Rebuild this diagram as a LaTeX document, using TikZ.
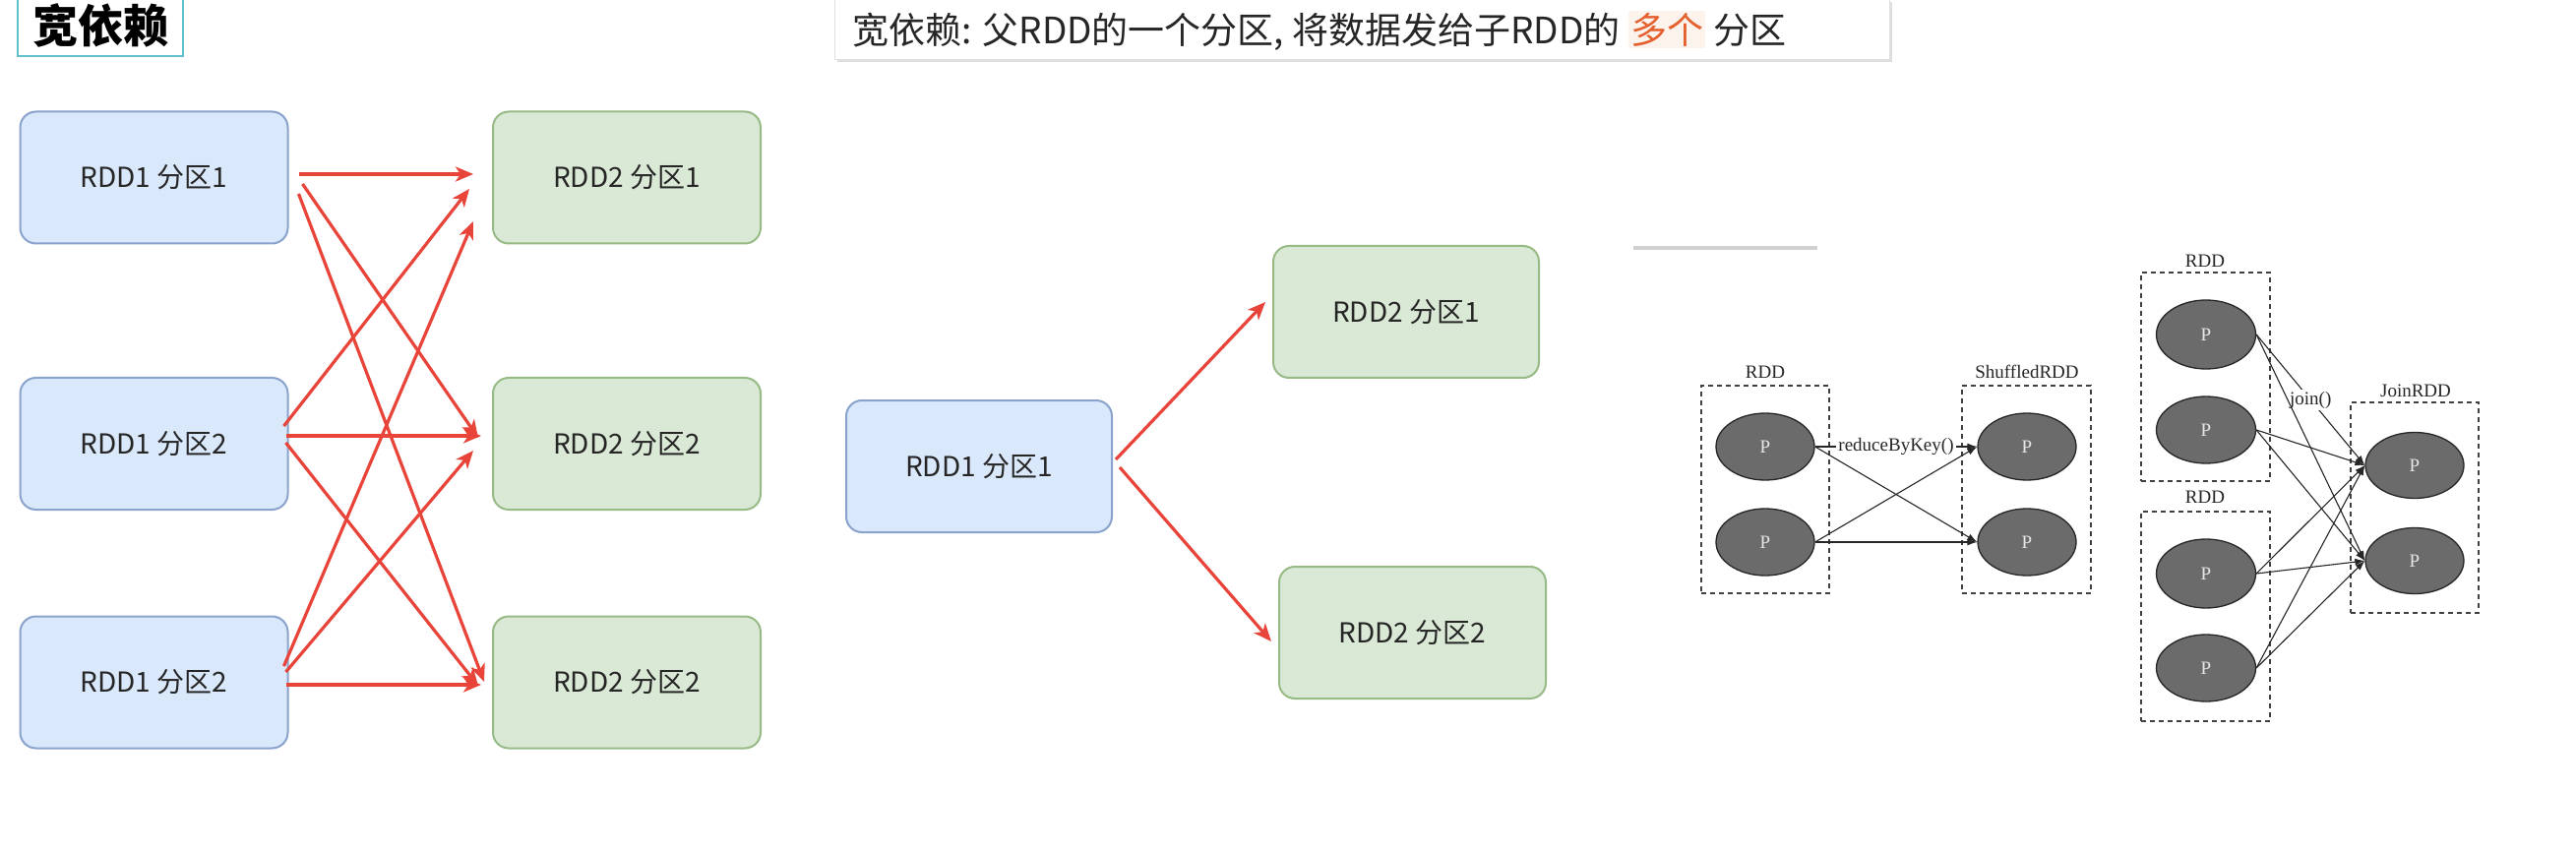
\documentclass[tikz,border=0pt]{standalone}
\usepackage{fontspec}
\setmainfont{Liberation Serif}
\newfontfamily\cjk{Noto Sans CJK SC}
\usetikzlibrary{arrows.meta,shadows,shapes.geometric}
\definecolor{bluefill}{HTML}{DAE8FC}
\definecolor{bluedraw}{HTML}{8AA3CC}
\definecolor{greenfill}{HTML}{D9E9D5}
\definecolor{greendraw}{HTML}{97BA86}
\definecolor{redline}{HTML}{E8443A}
\definecolor{teal}{HTML}{62C1C9}
\definecolor{pgray}{HTML}{6B6B6B}
\definecolor{hlbg}{HTML}{FCF4EC}
\definecolor{hlfg}{HTML}{E4602E}
\tikzset{
  rddbox/.style={rectangle, rounded corners=16pt, line width=2pt, minimum width=272pt, minimum height=134pt, inner sep=0pt, text=black!85, font=\cjk\fontsize{28pt}{34pt}\selectfont},
  bluebox/.style={rddbox, fill=bluefill, draw=bluedraw},
  greenbox/.style={rddbox, fill=greenfill, draw=greendraw},
  redarrow/.style={draw=redline, line width=3.2pt, -{Stealth[length=18pt,width=15pt,inset=5pt]}},
  dashbox/.style={rectangle, draw=black!75, line width=1.4pt, dash pattern=on 5pt off 4pt, inner sep=0pt},
  pnode/.style={ellipse, fill=pgray, draw=black!85, line width=1.3pt, minimum width=100pt, minimum height=68pt, inner sep=0pt, text=black!10, font=\fontsize{19pt}{22pt}\selectfont},
  lbl/.style={font=\fontsize{19pt}{22pt}\selectfont, text=black!85, inner sep=1pt},
  thinarrow/.style={draw=black!85, line width=1.1pt, -{Latex[length=10pt,width=7pt]}},
}
\begin{document}
\begin{tikzpicture}[x=1pt,y=-1pt]
\useasboundingbox (0,0) rectangle (2618,866);
\fill[white] (0,0) rectangle (2618,866);

% title
\node[draw=teal, line width=2.5pt, minimum width=168pt, minimum height=62pt, inner sep=0pt, font=\cjk\bfseries\fontsize{46pt}{50pt}\selectfont] (title) at (102,26) {宽依赖};

% caption
\node[rectangle, fill=white, draw=black!12, line width=1pt, minimum width=1072pt, minimum height=61pt, inner sep=0pt,
      drop shadow={shadow xshift=3pt, shadow yshift=-3pt, fill=black!25, opacity=0.5}] (cap) at (1384,30) {};
\node[anchor=west, inner sep=0pt, font=\cjk\fontsize{37pt}{44pt}\selectfont, text=black!85] (captext) at (866,31)
  {宽依赖: 父RDD的一个分区, 将数据发给子RDD的 {\fboxsep=2pt\colorbox{hlbg}{\textcolor{hlfg}{多个}}} 分区};

% left group
\node[bluebox] (b1) at (156.5,180.5) {RDD1 分区1};
\node[bluebox] (b2) at (156.5,451) {RDD1 分区2};
\node[bluebox] (b3) at (156.5,693.5) {RDD1 分区2};
\node[greenbox] (g1) at (637,180.5) {RDD2 分区1};
\node[greenbox] (g2) at (637,451) {RDD2 分区2};
\node[greenbox] (g3) at (637,693.5) {RDD2 分区2};

\draw[redarrow] ([xshift=10pt,yshift=3.5pt]b1.east) -- ([xshift=-19pt,yshift=3.5pt]g1.west);
\draw[redarrow] ([xshift=14pt,yshift=-6.5pt]b1.east) -- ([xshift=-14pt,yshift=6pt]g2.west);
\draw[redarrow] ([xshift=10pt,yshift=-16.5pt]b1.east) -- ([xshift=-8pt,yshift=0.5pt]g3.west);
\draw[redarrow] ([xshift=-5pt,yshift=18pt]b2.east) -- ([xshift=-23pt,yshift=-11.5pt]g1.west);
\draw[redarrow] ([xshift=-3pt,yshift=8pt]b2.east) -- ([xshift=-11pt,yshift=8pt]g2.west);
\draw[redarrow] ([xshift=-3pt,yshift=1pt]b2.east) -- ([xshift=-14pt,yshift=-3.5pt]g3.west);
\draw[redarrow] ([xshift=-5pt,yshift=16.5pt]b3.east) -- ([xshift=-19pt,yshift=-44.5pt]g1.west);
\draw[redarrow] ([xshift=-3pt,yshift=10.5pt]b3.east) -- ([xshift=-19pt,yshift=-7pt]g2.west);
\draw[redarrow] ([xshift=-3pt,yshift=-2.5pt]b3.east) -- ([xshift=-11pt,yshift=-2.5pt]g3.west);

% middle group
\node[bluebox, minimum width=270pt] (m1) at (995,474) {RDD1 分区1};
\node[greenbox, minimum width=270pt] (m2) at (1429,317) {RDD2 分区1};
\node[greenbox, minimum width=271pt] (m3) at (1435.5,643) {RDD2 分区2};
\draw[redarrow] ([xshift=3pt,yshift=7pt]m1.east) -- ([xshift=-7pt,yshift=10pt]m2.west);
\draw[redarrow] ([xshift=7pt,yshift=-1pt]m1.east) -- ([xshift=-7pt,yshift=-9pt]m3.west);

% gray rule
\draw[line width=4pt, draw=black!18] (1660,252) -- (1847,252);

% reduceByKey diagram
\node[dashbox, minimum width=130pt, minimum height=211pt] (ra) at (1794,497.5) {};
\node[dashbox, minimum width=131pt, minimum height=211pt] (sa) at (2059.5,497.5) {};
\node[lbl] (ralbl) at (1794,378) {RDD};
\node[lbl] (salbl) at (2060,378) {ShuffledRDD};
\node[pnode] (e1) at (1794,454) {P};
\node[pnode] (e2) at (1794,551) {P};
\node[pnode] (s1) at (2060,454) {P};
\node[pnode] (s2) at (2060,551) {P};
\draw[thinarrow] (e1.east) -- node[lbl, fill=white, inner sep=2pt] (rbk) {reduceByKey()} (s1.west);
\draw[thinarrow] (e1.east) -- (s2.west);
\draw[thinarrow] (e2.east) -- (s1.west);
\draw[thinarrow] (e2.east) -- (s2.west);

% join diagram
\node[dashbox, minimum width=131pt, minimum height=212pt] (jr1) at (2241.5,383) {};
\node[dashbox, minimum width=131pt, minimum height=213pt] (jr2) at (2241.5,626.5) {};
\node[dashbox, minimum width=130pt, minimum height=214pt] (jj) at (2454,516) {};
\node[lbl] (jr1lbl) at (2241,265) {RDD};
\node[lbl] (jr2lbl) at (2241,505) {RDD};
\node[lbl] (jjlbl) at (2455,397) {JoinRDD};
\node[pnode, minimum width=101pt, minimum height=70pt] (p1) at (2242,340) {P};
\node[pnode, minimum width=101pt, minimum height=68pt] (p2) at (2242,437) {P};
\node[pnode, minimum width=101pt, minimum height=70pt] (p3) at (2242,583) {P};
\node[pnode, minimum width=101pt, minimum height=68pt] (p4) at (2242,679) {P};
\node[pnode, minimum width=100pt, minimum height=67pt] (q1) at (2454,473) {P};
\node[pnode, minimum width=100pt, minimum height=67pt] (q2) at (2454,570) {P};
\draw[thinarrow] (p1.east) -- node[lbl, fill=white, inner sep=2pt] (jn) {join()} (q1.west);
\draw[thinarrow] (p1.east) -- (q2.west);
\draw[thinarrow] (p2.east) -- (q1.west);
\draw[thinarrow] (p2.east) -- (q2.west);
\draw[thinarrow] (p3.east) -- (q1.west);
\draw[thinarrow] (p3.east) -- (q2.west);
\draw[thinarrow] (p4.east) -- (q1.west);
\draw[thinarrow] (p4.east) -- (q2.west);
\end{tikzpicture}
\end{document}
